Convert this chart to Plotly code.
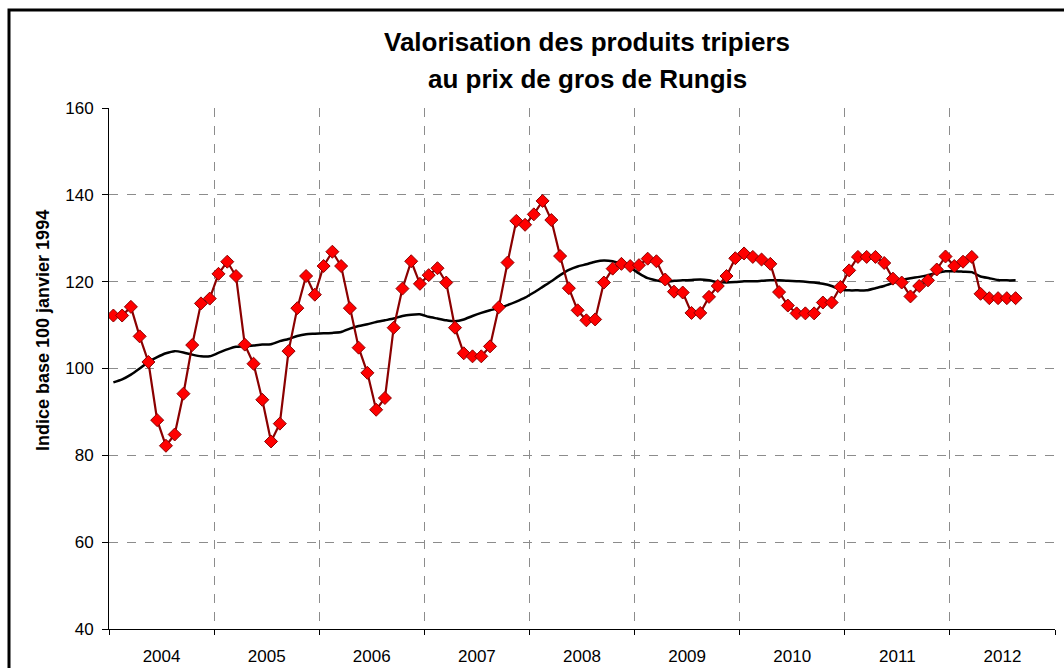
import plotly.graph_objects as go

years = ["2004", "2005", "2006", "2007", "2008", "2009", "2010", "2011", "2012"]

# Monthly index values (Jan 2004 .. Aug 2012)
valorisation = [
    112.2, 112.2, 114.2, 107.4, 101.5, 88.1, 82.2, 84.8, 94.2, 105.4, 115.0, 116.1,
    121.8, 124.6, 121.3, 105.5, 101.1, 92.8, 83.2, 87.3, 104.0, 113.9, 121.3, 117.0,
    123.6, 126.9, 123.6, 113.9, 104.8, 99.0, 90.5, 93.2, 109.4, 118.4, 124.7, 119.5,
    121.5, 123.1, 119.8, 109.4, 103.5, 102.8, 102.8, 105.1, 114.1, 124.4, 134.0, 133.1,
    135.5, 138.6, 134.2, 125.9, 118.5, 113.4, 111.1, 111.3, 119.8, 123.0, 124.1, 123.6,
    123.8, 125.3, 124.7, 120.5, 117.7, 117.5, 112.8, 112.8, 116.5, 119.0, 121.3, 125.4,
    126.5, 125.7, 125.1, 124.1, 117.6, 114.5, 112.7, 112.7, 112.7, 115.2, 115.2, 118.8,
    122.6, 125.7, 125.7, 125.7, 124.3, 120.7, 119.8, 116.6, 119.0, 120.3, 122.8, 125.8,
    123.6, 124.6, 125.7, 117.2, 116.2, 116.2, 116.2, 116.2,
]

# Moving average (trend)
moyenne_mobile = [
    96.8, 97.5, 98.6, 100.0, 101.5, 102.6, 103.5, 104.0, 103.7, 103.2, 102.8, 102.8,
    103.6, 104.4, 105.0, 105.1, 105.3, 105.5, 105.6, 106.3, 106.8, 107.5, 107.9, 108.0,
    108.1, 108.2, 108.4, 109.2, 109.8, 110.2, 110.7, 111.1, 111.5, 112.1, 112.4, 112.5,
    111.9, 111.5, 111.1, 110.9, 111.3, 112.1, 112.8, 113.4, 113.9, 114.6, 115.4, 116.3,
    117.5, 118.8, 120.1, 121.5, 122.7, 123.5, 124.0, 124.6, 124.9, 124.7, 124.1, 123.3,
    121.9, 120.8, 120.3, 119.9, 120.2, 120.3, 120.4, 120.5, 120.3, 119.9, 119.8, 119.9,
    120.1, 120.1, 120.2, 120.3, 120.3, 120.2, 120.1, 120.0, 119.8, 119.5, 119.0, 118.2,
    118.0, 118.0, 118.0, 118.5, 119.0, 119.7, 120.4, 120.8, 121.1, 121.5, 122.0, 122.4,
    122.4, 122.3, 122.2, 121.2, 120.8, 120.4, 120.3, 120.3,
]

y_ticks = [40, 60, 80, 100, 120, 140, 160]

months = list(range(len(valorisation)))
n_months = 12 * len(years)
year_centers = [12 * i + 5.5 for i in range(len(years))]
year_bounds = [12 * i - 0.5 for i in range(len(years) + 1)]

FONT = "Arial, Liberation Sans, sans-serif"

fig = go.Figure()
fig.add_trace(go.Scatter(
    x=months, y=moyenne_mobile, mode="lines",
    line=dict(color="black", width=2.5, shape="spline", smoothing=0.6),
    hoverinfo="skip", showlegend=False,
))
fig.add_trace(go.Scatter(
    x=months, y=valorisation, mode="lines+markers",
    line=dict(color="#8B0000", width=2.2),
    marker=dict(symbol="diamond", size=10, color="#FF0000",
                line=dict(color="#8B0000", width=1)),
    showlegend=False,
))

W, H = 1064, 668
L, R, T, B = 109, 9, 108, 39
pw, ph = W - L - R, H - T - B

def px(x):
    return (x - L) / pw

def py(y):
    return (H - B - y) / ph

fig.update_layout(
    width=W, height=H,
    margin=dict(l=L, r=R, t=T, b=B, pad=0, autoexpand=False),
    paper_bgcolor="white", plot_bgcolor="white",
    font=dict(family=FONT, color="black", size=16),
    xaxis=dict(
        range=[-0.5, n_months - 0.5], automargin=False,
        tickmode="array", tickvals=year_centers, ticktext=years,
        ticks="", showgrid=False, zeroline=False,
        showline=True, linecolor="black", linewidth=1,
        tickfont=dict(size=17), ticklabelstandoff=12,
        minor=dict(tickmode="array", tickvals=year_bounds,
                   ticks="outside", ticklen=5, tickcolor="black", tickwidth=1,
                   showgrid=True, gridcolor="#8c8c8c", griddash="dash", gridwidth=1),
    ),
    yaxis=dict(
        range=[40, 160], tickmode="array", tickvals=y_ticks, automargin=False,
        ticks="outside", ticklen=6, tickcolor="black", tickwidth=1,
        showgrid=True, gridcolor="#8c8c8c", griddash="dash", gridwidth=1,
        zeroline=False, showline=True, linecolor="black", linewidth=1,
        tickfont=dict(size=17), ticklabelstandoff=5,
    ),
    annotations=[
        dict(text="<b>Valorisation des produits tripiers</b>", x=px(587), y=py(42),
             xref="paper", yref="paper", xanchor="center", yanchor="middle",
             showarrow=False, font=dict(size=26, family=FONT)),
        dict(text="<b>au prix de gros de Rungis</b>", x=px(587), y=py(79),
             xref="paper", yref="paper", xanchor="center", yanchor="middle",
             showarrow=False, font=dict(size=26, family=FONT)),
        dict(text="<b>Indice base 100 janvier 1994</b>", x=px(43), y=py(331),
             xref="paper", yref="paper", xanchor="center", yanchor="middle",
             textangle=-90, showarrow=False, font=dict(size=18, family=FONT)),
    ],
    shapes=[
        dict(type="rect", xref="paper", yref="paper",
             x0=px(9), x1=px(1075), y0=py(690), y1=py(10),
             line=dict(color="black", width=3), fillcolor="rgba(0,0,0,0)", layer="above"),
    ],
)

fig.write_html(
    "out.html",
    config={"displayModeBar": False},
    post_script="document.body.style.margin='0';document.body.style.padding='0';document.body.style.overflow='hidden';",
)
